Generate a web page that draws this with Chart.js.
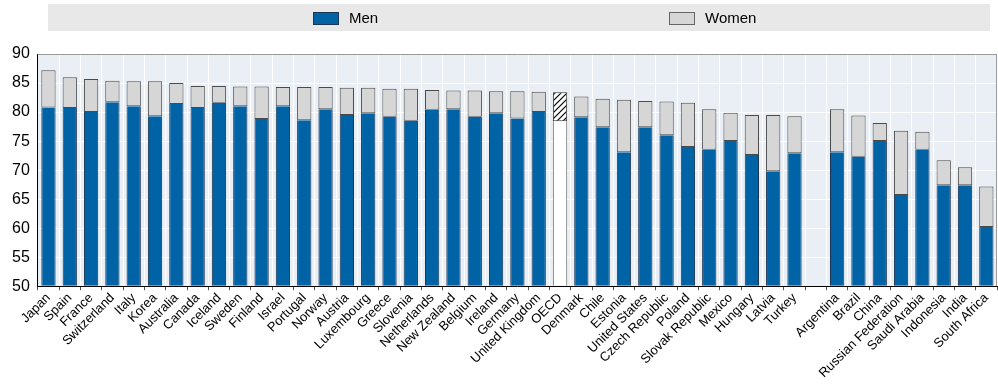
<!DOCTYPE html>
<html>
<head>
<meta charset="utf-8">
<script src="https://cdn.jsdelivr.net/npm/chart.js@4.4.1/dist/chart.umd.min.js"></script>
<style>
  html, body { margin: 0; padding: 0; background: #fff; }
  #wrap { width: 998px; height: 385px; }
</style>
</head>
<body>
<div id="wrap"><canvas id="lifeChart"></canvas></div>
<script>
// life expectancy at birth
const countries = ["Japan", "Spain", "France", "Switzerland", "Italy", "Korea", "Australia", "Canada",
  "Iceland", "Sweden", "Finland", "Israel", "Portugal", "Norway", "Austria", "Luxembourg", "Greece",
  "Slovenia", "Netherlands", "New Zealand", "Belgium", "Ireland", "Germany", "United Kingdom", "OECD",
  "Denmark", "Chile", "Estonia", "United States", "Czech Republic", "Poland", "Slovak Republic",
  "Mexico", "Hungary", "Latvia", "Turkey", "", "Argentina", "Brazil", "China", "Russian Federation",
  "Saudi Arabia", "Indonesia", "India", "South Africa"];
const men = [80.8, 80.7, 80.0, 81.7, 81.0, 79.3, 81.4, 80.7, 81.6, 81.0, 78.8, 81.0, 78.6, 80.5,
  79.5, 79.8, 79.2, 78.5, 80.4, 80.5, 79.2, 79.8, 78.9, 80.0, 78.4, 79.1, 77.4, 73.1, 77.4, 76.0,
  74.0, 73.5, 75.0, 72.6, 69.8, 72.9, null, 73.1, 72.3, 75.0, 65.7, 73.5, 67.4, 67.4, 60.2];
const women = [87.2, 86.0, 85.7, 85.4, 85.3, 85.3, 85.0, 84.5, 84.5, 84.4, 84.4, 84.3, 84.3, 84.3,
  84.2, 84.2, 84.0, 84.0, 83.8, 83.7, 83.7, 83.6, 83.6, 83.5, 83.4, 82.7, 82.3, 82.1, 81.9, 81.8,
  81.6, 80.5, 79.9, 79.5, 79.5, 79.3, null, 80.5, 79.4, 78.1, 76.8, 76.6, 71.7, 70.5, 67.2];
const yTicks = [50, 55, 60, 65, 70, 75, 80, 85, 90];
const seriesNames = ["Men", "Women"];

const BLUE = "#0063a6";
const GREY = "#d6d6d6";

// hatched fill for the OECD average
function hatch() {
  const c = document.createElement("canvas");
  c.width = 6; c.height = 6;
  const x = c.getContext("2d");
  x.fillStyle = "#fff";
  x.fillRect(0, 0, 6, 6);
  x.strokeStyle = "#000";
  x.lineWidth = 1.2;
  x.beginPath();
  x.moveTo(0, 6); x.lineTo(6, 0);
  x.moveTo(-3, 3); x.lineTo(3, -3);
  x.moveTo(3, 9); x.lineTo(9, 3);
  x.stroke();
  return x.createPattern(c, "repeat");
}
const hatchFill = hatch();

const gap = women.map((w, i) => (w == null || men[i] == null) ? null : +(w - men[i]).toFixed(2));
const isOecd = countries.map(c => c === "OECD");

const frame = {
  id: "frame",
  beforeDraw(chart) {
    const { ctx, chartArea: a } = chart;
    ctx.save();
    ctx.fillStyle = "#eaeff6";
    ctx.fillRect(a.left, a.top, a.right - a.left, a.bottom - a.top);
    // legend band
    ctx.fillStyle = "#e8e8e8";
    ctx.fillRect(48, 4, 942, 27);
    const items = [[313, BLUE, "#1b3553"], [669, GREY, "#666"]];
    ctx.font = "15px 'Liberation Sans Narrow', 'Liberation Sans', Arial, sans-serif";
    ctx.textBaseline = "middle";
    items.forEach((it, i) => {
      ctx.fillStyle = it[1];
      ctx.fillRect(it[0], 12, 25, 12);
      ctx.strokeStyle = it[2];
      ctx.lineWidth = 1;
      ctx.strokeRect(it[0] + 0.5, 12.5, 25, 12);
      ctx.fillStyle = "#000";
      ctx.fillText(seriesNames[i], it[0] + 36, 18.5);
    });
    ctx.restore();
  },
  afterDraw(chart) {
    const { ctx, chartArea: a } = chart;
    ctx.save();
    ctx.strokeStyle = "#9a9a9a";
    ctx.lineWidth = 1;
    ctx.beginPath();
    ctx.moveTo(a.left, a.top + 0.5); ctx.lineTo(a.right, a.top + 0.5);
    ctx.moveTo(a.right - 0.5, a.top); ctx.lineTo(a.right - 0.5, a.bottom);
    ctx.stroke();
    ctx.restore();
  }
};

new Chart(document.getElementById("lifeChart").getContext("2d"), {
  type: "bar",
  data: {
    labels: countries,
    datasets: [
      {
        label: seriesNames[0],
        data: men,
        backgroundColor: isOecd.map(o => o ? "#fff" : BLUE),
        borderColor: isOecd.map(o => o ? "#777" : "#1b3553"),
        borderWidth: { left: 1, right: 1, top: 0, bottom: 0 },
        borderSkipped: false,
        categoryPercentage: 1,
        barPercentage: 0.67,
        base: 50,
      },
      {
        label: seriesNames[1],
        data: gap,
        backgroundColor: isOecd.map(o => o ? hatchFill : GREY),
        borderColor: isOecd.map(o => o ? "#333" : "#4a4a4a"),
        borderWidth: 1,
        borderSkipped: false,
        categoryPercentage: 1,
        barPercentage: 0.67,
      },
    ],
  },
  options: {
    responsive: true,
    maintainAspectRatio: false,
    animation: false,
    layout: { padding: { top: 54, left: 4, right: 1, bottom: 4 } },
    plugins: { legend: { display: false }, tooltip: { enabled: false } },
    scales: {
      x: {
        stacked: true,
        offset: true,
        grid: { offset: true, color: "#fff", lineWidth: 1, tickColor: "#555", tickLength: 4 },
        border: { color: "#000", width: 1 },
        ticks: {
          autoSkip: false,
          minRotation: 45,
          maxRotation: 45,
          padding: 0,
          color: "#000",
          font: { family: "'Liberation Sans', Arial, sans-serif", size: 13 },
        },
      },
      y: {
        stacked: true,
        min: yTicks[0],
        max: yTicks[yTicks.length - 1],
        afterBuildTicks(scale) { scale.ticks = yTicks.map(v => ({ value: v })); },
        grid: { color: "#fff", lineWidth: 1, drawTicks: false },
        border: { color: "#000", width: 1 },
        ticks: {
          padding: 8,
          color: "#000",
          font: { family: "'Liberation Sans', Arial, sans-serif", size: 16 },
        },
      },
    },
  },
  plugins: [frame],
});
</script>
</body>
</html>
